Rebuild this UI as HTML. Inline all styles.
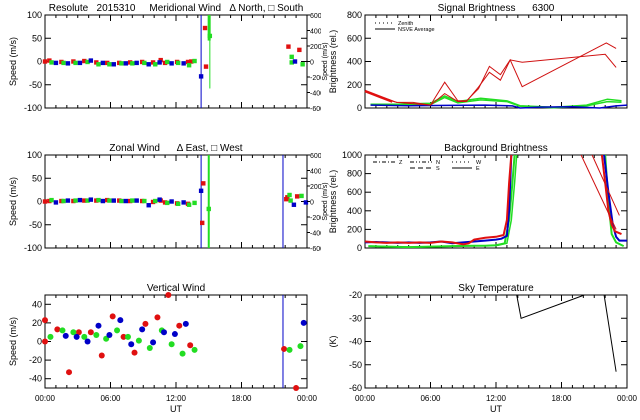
<!DOCTYPE html>
<html><head><meta charset="utf-8"><style>
body{margin:0;background:#fff;}
svg{display:block;font-family:"Liberation Sans",sans-serif;}
text{white-space:pre;}
</style></head><body>
<svg id="c" width="640" height="420" viewBox="0 0 640 420"></svg>
<script>
// ---- data ----
const merRedH=[0,0.4,1.5,2.6,3.6,4.7,5.7,6.8,7.8,8.9,9.9,10.6,11.0,12.1,13.1,13.4,14.66,14.75,22.3,23.3];
const merRedV=[0,2,-1,0,1,-2,-3,-3,-2,-1,-2,3,-3,-1,-1,0,72,-11,32,25];
const merGreenH=[0.6,1.7,2.8,3.9,4.9,5.9,7.0,8.0,9.1,10.1,11.2,12.2,13.2,13.7,15.1,22.6,22.6,23.6];
const merGreenV=[-2,-3,-3,-1,-6,-6,-4,-4,-3,-6,-1,-3,-8,1,55,10,-2,-6];
const merBlueH=[1.0,2.1,3.2,4.2,5.3,6.3,7.4,8.4,9.5,10.5,11.6,12.7,14.3,22.9];
const merBlueV=[-3,-4,-3,2,-3,-6,-4,-3,-6,-2,-4,-4,-32,0];
const zonRedH=[0,0.4,1.5,2.6,3.6,4.7,5.7,6.8,7.8,8.9,9.9,10.6,11.0,12.1,13.1,14.5,14.4,22.1,22.2,23.1];
const zonRedV=[0,1,1,1,2,2,3,2,1,1,-1,2,-2,-4,-5,39,-46,5,9,11];
const zonGreenH=[0.6,1.7,2.8,3.9,4.9,5.9,7.0,8.0,9.1,10.1,11.2,12.2,13.2,13.7,15.0,22.4,22.5,23.5];
const zonGreenV=[3,1,2,2,3,2,1,2,1,1,-3,-5,-7,-3,-16,14,2,12];
const zonBlueH=[1.0,2.1,3.2,4.2,5.3,6.3,7.4,8.4,9.5,10.5,11.6,12.7,14.3,22.8,23.9];
const zonBlueV=[-2,2,3,4,1,2,1,2,-8,4,0,-2,23,-7,-2];
const vwRedH=[0.0,0.0,1.13,2.2,3.1,4.2,5.2,6.2,7.2,8.2,9.2,10.3,11.3,12.3,13.3,21.9,23.0];
const vwRedV=[23,0,13,-33,10,10,-15,27,5,-12,19,26,50,17,-4,-8,-50];
const vwGreenH=[0.5,1.6,2.6,3.6,4.7,5.6,6.6,7.6,8.6,9.6,10.7,11.6,12.6,13.7,22.4,23.4];
const vwGreenV=[5,12,10,5,7,3,12,5,1,-7,12,-3,-13,-9,-9,-5];
const vwBlueH=[1.9,2.9,3.9,4.9,5.9,6.9,7.9,8.9,9.9,10.9,11.9,12.9,23.7];
const vwBlueV=[6,5,0,17,7,23,-3,13,-1,10,8,19,20];
const sigRedAH=[0,1.37,2.9,4.4,6.0,7.3,8.5,9.3,10.4,11.4,12.4,13.3,14.4,22.1,23.0];
const sigRedAV=[145,90,48,48,25,222,62,62,166,358,287,414,183,560,513];
const sigRedBH=[0,2.9,6.0,7.3,8.5,9.3,10.4,11.4,12.4,13.3,14.4,22.0,23.0];
const sigRedBV=[145,48,25,124,56,56,180,307,239,414,394,462,349];
const sigGreenAH=[0.5,2.9,6.0,7.3,8.5,10.6,13.0,14.2,17.3,20.3,22.2,23.5];
const sigGreenAV=[33,33,40,104,56,84,62,20,6,25,76,62];
const sigGreenBH=[0.5,3,6,7.3,8.5,10.6,13,14.2,17.3,20.3,22.2,23.5];
const sigGreenBV=[30,28,30,90,45,70,55,15,2,18,55,50];
const sigBlueH=[0.5,4,7.5,11,13.5,14.2,16,19,21.5,23,24];
const sigBlueV=[25,20,22,25,18,0,8,10,0,18,25];
const bgRedH=[0,1,2,3,4,5,6,7,8,9,9.5,10,11,12,12.7,13.0,13.2,13.4];
const bgRedV=[70,60,55,60,55,60,55,70,60,40,50,90,110,120,140,300,700,1000];
const bgRedLateH=[21.7,22,22.3,22.6,22.9,23.5];
const bgRedLateV=[1000,700,400,250,180,150];
const bgRedDiagH=[19.8,23.0,20.8,23.3];
const bgRedDiagV=[1000,200,1000,350];
const bgBlueH=[0,1,2,3,4,5,6,7,8,9,10,11,12,12.5,13.0,13.2,13.4];
const bgBlueV=[60,65,60,55,60,55,60,70,50,60,70,80,90,100,130,400,1000];
const bgBlueLateH=[21.9,22.3,22.7,23.0,23.3,24];
const bgBlueLateV=[1000,600,250,120,80,80];
const bgGreenH=[0.3,2,4,6,8,10,11,12,12.8,13.2,13.5,13.7];
const bgGreenV=[20,15,10,15,20,25,25,30,50,300,700,1000];
const bgGreenLateH=[22,22.3,22.6,23,23.7];
const bgGreenLateV=[1000,500,150,60,20];
const skyH=[13.9,14.3,20.1,21.9,23.0];
const skyV=[-20,-30,-20,-20,-53];
const xTickLabels=["00:00","06:00","12:00","18:00","00:00"];

const NS="http://www.w3.org/2000/svg";
const svg=document.getElementById('c');
function el(t,a,p){const e=document.createElementNS(NS,t);for(const k in a)e.setAttribute(k,a[k]);(p||svg).appendChild(e);return e;}
function txt(s,x,y,size,anchor,rot,p){const t=el('text',{x:x,y:y,'font-size':size,'text-anchor':anchor||'middle',fill:'#000'},p);if(rot)t.setAttribute('transform','rotate(-90 '+x+' '+y+')');t.textContent=s;return t;}
function panel(name,x0,y0,x1,y1,ymin,ymax,yticks,title,ylabel,xlabels){
  const g=el('g',{});
  
  
  const sx=h=>x0+(h/24)*(x1-x0), sy=v=>y1-(v-ymin)/(ymax-ymin)*(y1-y0);
  el('rect',{x:x0,y:y0,width:x1-x0,height:y1-y0,fill:'none',stroke:'#000','stroke-width':1},g);
  for(let h=1;h<24;h++){const L=h%6==0?6:3;const X=sx(h);
    el('line',{x1:X,y1:y1,x2:X,y2:y1-L,stroke:'#000'},g);el('line',{x1:X,y1:y0,x2:X,y2:y0+L,stroke:'#000'},g);}
  yticks.forEach(v=>{const Y=sy(v);el('line',{x1:x0,y1:Y,x2:x0+6,y2:Y,stroke:'#000'},g);el('line',{x1:x1,y1:Y,x2:x1-6,y2:Y,stroke:'#000'},g);
    const t=txt(String(v),x0-3,Y+3,9,'end',false,g);});
  const tt=txt(title,(x0+x1)/2,y0-4,10,'middle',false,g);
  const yl=txt(ylabel,x0-29,(y0+y1)/2,9,'middle',true,g);
  if(xlabels){xTickLabels.forEach((s,i)=>{const t=txt(s,sx(i*6),y1+13,8,'middle',false,g);});
    const xt=txt('UT',(x0+x1)/2,y1+24,9,'middle',false,g);}
  return {g,sx,sy};
}
function squares(P,H,V,c,name,clipMin,clipMax){H.forEach((h,i)=>{const v=Math.max(clipMin,Math.min(clipMax,V[i]));const r=el('rect',{x:P.sx(h)-2.2,y:P.sy(v)-2.2,width:4.4,height:4.4,fill:c},P.g);});}
function dots(P,H,V,c,name){H.forEach((h,i)=>{const r=el('circle',{cx:P.sx(h),cy:P.sy(V[i]),r:3,fill:c},P.g);});}
function line(P,H,V,c,name,w,dash){const d=H.map((h,i)=>(i?'L':'M')+P.sx(h).toFixed(1)+' '+P.sy(V[i]).toFixed(1)).join(' ');const p=el('path',{d:d,fill:'none',stroke:c,'stroke-width':w||1},P.lg||P.g);if(dash)p.setAttribute('stroke-dasharray',dash);return p;}
function vline(P,h,c,name,w){const l=el('line',{x1:P.sx(h),y1:P.sy(P.top),x2:P.sx(h),y2:P.sy(P.bot),stroke:c,'stroke-width':w||1},P.g);}
function rightAxis(P,x1,y0,y1){[600,400,200,0,-200,-400,-600].forEach(v=>{const Y=y1-(v+600)/1200*(y1-y0);const t=txt(String(v),x1+3,Y+3,7,'start',false,P.g);el('line',{x1:x1,y1:Y,x2:x1+3,y2:Y,stroke:'#000'},P.g);});
  const t=txt('Speed (m/s)',327,(y0+y1)/2,7,'middle',true);}

const cp=el('clipPath',{id:'lc'});el('rect',{x:0,y:0,width:321,height:420},cp);

// Meridional
let P=panel('meridional-wind-panel',45,15,307,108,-100,100,[100,50,0,-50,-100],'Resolute   2015310     Meridional Wind   \u0394 North, \u25A1 South','Speed (m/s)',false);
P.g.setAttribute('clip-path','url(#lc)');P.top=100;P.bot=-100;
vline(P,14.3,'#0000c8','blue-marker-line');
el('line',{x1:P.sx(15.1),y1:P.sy(100),x2:P.sx(15.1),y2:P.sy(-58),stroke:'#22dd22'},P.g);
el('rect',{x:P.sx(14.9),y:P.sy(100),width:3,height:P.sy(45)-P.sy(100),fill:'#22dd22'},P.g);
squares(P,merRedH,merRedV,'#e01010','meridional-red-point',-100,100);
squares(P,merGreenH,merGreenV,'#22dd22','meridional-green-point',-100,100);
squares(P,merBlueH,merBlueV,'#0000c8','meridional-blue-point',-100,100);
rightAxis(P,307,15,108);

// Zonal
P=panel('zonal-wind-panel',45,155,307,248,-100,100,[100,50,0,-50,-100],'Zonal Wind      \u0394 East, \u25A1 West','Speed (m/s)',false);
P.g.setAttribute('clip-path','url(#lc)');P.top=100;P.bot=-100;
vline(P,14.3,'#0000c8','blue-marker-line');vline(P,21.8,'#0000c8','blue-marker-line');
vline(P,15.0,'#22dd22','green-error-bar',2);
squares(P,zonRedH,zonRedV,'#e01010','zonal-red-point',-100,100);
squares(P,zonGreenH,zonGreenV,'#22dd22','zonal-green-point',-100,100);
squares(P,zonBlueH,zonBlueV,'#0000c8','zonal-blue-point',-100,100);
rightAxis(P,307,155,248);

// Vertical
P=panel('vertical-wind-panel',45,295,307,388,-50,50,[40,20,0,-20,-40],'Vertical Wind','Speed (m/s)',true);
P.top=50;P.bot=-50;
vline(P,21.8,'#0000c8','blue-marker-line');
dots(P,vwRedH,vwRedV,'#e01010','vertical-red-point');
dots(P,vwGreenH,vwGreenV,'#22dd22','vertical-green-point');
dots(P,vwBlueH,vwBlueV,'#0000c8','vertical-blue-point');

// Signal brightness
P=panel('signal-brightness-panel',365,15,627,108,0,800,[800,600,400,200,0],'Signal Brightness      6300','Brightness (rel.)',false);
line(P,sigGreenAH,sigGreenAV,'#22dd22','signal-green-line',1.5);
line(P,sigGreenBH,sigGreenBV,'#22dd22','signal-green-line',1.5);
line(P,sigBlueH,sigBlueV,'#0000c8','signal-blue-line',1.5);
line(P,sigRedAH,sigRedAV,'#d01010','signal-red-line',1);
line(P,sigRedBH,sigRedBV,'#d01010','signal-red-line',1);
line(P,[0,2.5],[145,55],'#e01010','signal-red-start',2.5);
{const lg=el('g',{});
 el('line',{x1:375,y1:23,x2:395,y2:23,stroke:'#000','stroke-dasharray':'1 3'},lg);txt('Zenith',398,25,5.5,'start',false,lg);
 el('line',{x1:375,y1:29,x2:395,y2:29,stroke:'#000'},lg);txt('NSVE Average',398,31,5.5,'start',false,lg);}

// Background brightness
P=panel('background-brightness-panel',365,155,627,248,0,1000,[1000,800,600,400,200,0],'Background Brightness','Brightness (rel.)',false);
const bc=el('clipPath',{id:'bc'});el('rect',{x:365,y:155,width:262,height:93},bc);
P.lg=el('g',{'clip-path':'url(#bc)'},P.g);
line(P,bgGreenH,bgGreenV,'#22dd22','background-green-line',2);
line(P,bgGreenH.map(h=>h+0.2),bgGreenV,'#22dd22','background-green-line',1.5);
line(P,bgGreenLateH,bgGreenLateV,'#22dd22','background-green-line',2);
line(P,bgBlueH,bgBlueV,'#0000c8','background-blue-line',2);
line(P,bgBlueLateH,bgBlueLateV,'#0000c8','background-blue-line',2);
line(P,bgRedH,bgRedV,'#e01010','background-red-line',2);
line(P,bgRedLateH,bgRedLateV,'#e01010','background-red-line',2);
line(P,bgRedDiagH.slice(0,2),bgRedDiagV.slice(0,2),'#d01010','background-red-line',1);
line(P,bgRedDiagH.slice(2),bgRedDiagV.slice(2),'#d01010','background-red-line',1);
{const lg=el('g',{});
 el('line',{x1:373,y1:162,x2:395,y2:162,stroke:'#000','stroke-dasharray':'4 2 1 2'},lg);txt('Z',399,164,5.5,'start',false,lg);
 el('line',{x1:410,y1:162,x2:432,y2:162,stroke:'#000','stroke-dasharray':'4 2 1 2 1 2'},lg);txt('N',436,164,5.5,'start',false,lg);
 el('line',{x1:410,y1:168,x2:432,y2:168,stroke:'#000','stroke-dasharray':'5 3'},lg);txt('S',436,170,5.5,'start',false,lg);
 el('line',{x1:452,y1:162,x2:472,y2:162,stroke:'#000','stroke-dasharray':'1 3'},lg);txt('W',476,164,5.5,'start',false,lg);
 el('line',{x1:452,y1:168,x2:472,y2:168,stroke:'#000'},lg);txt('E',476,170,5.5,'start',false,lg);}

// Sky temperature
P=panel('sky-temperature-panel',365,295,627,388,-60,-20,[-20,-30,-40,-50,-60],'Sky Temperature','(K)',true);
line(P,skyH.slice(0,3),skyV.slice(0,3),'#000','sky-temp-line',1);
line(P,skyH.slice(3),skyV.slice(3),'#000','sky-temp-line',1);
</script>
</body></html>
